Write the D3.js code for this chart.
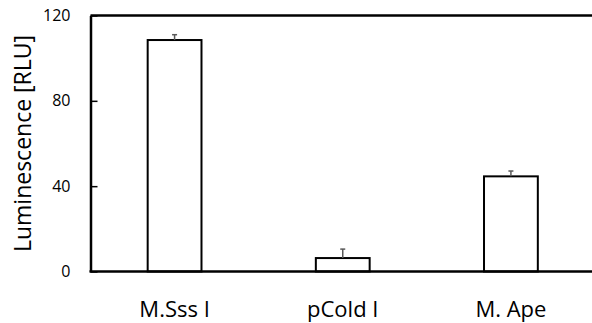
<!DOCTYPE html>
<html>
<head>
<meta charset="utf-8">
<script src="https://cdn.jsdelivr.net/npm/d3@7"></script>
<style>
  body { margin: 0; background: #fff; }
  svg text { font-family: "Open Sans", sans-serif; fill: #000; }
</style>
</head>
<body>
<div id="chart"></div>
<script>
// data
var categories = ["M.Sss I", "pCold I", "M. Ape"];
var values = [108.5, 6.3, 44.6];
var errors = [2.5, 4.2, 2.5];
var yTicks = [0, 40, 80, 120];

var width = 592, height = 323;
var plotLeft = 90.5, plotTop = 15.5, plotBottom = 271.5, plotRight = 595;

var svg = d3.select("#chart")
  .append("svg")
  .attr("width", width)
  .attr("height", height);

var xScale = d3.scaleBand()
  .domain(categories)
  .range([plotLeft, plotRight])
  .paddingInner(0.68)
  .paddingOuter(0.34);

var yScale = d3.scaleLinear()
  .domain([0, 120])
  .range([plotBottom, plotTop]);

// bars
svg.append("g")
  .selectAll("rect")
  .data(values)
  .enter().append("rect")
    .attr("x", function(d, i) { return xScale(categories[i]); })
    .attr("y", function(d) { return yScale(d); })
    .attr("width", xScale.bandwidth())
    .attr("height", function(d) { return yScale(0) - yScale(d); })
    .attr("fill", "#fff")
    .attr("stroke", "#000")
    .attr("stroke-width", 2);

// error bars (upper only)
var err = svg.append("g")
  .attr("stroke", "#595959")
  .attr("stroke-width", 1.5);
values.forEach(function(v, i) {
  var cx = xScale(categories[i]) + xScale.bandwidth() / 2;
  err.append("line")
    .attr("x1", cx).attr("x2", cx)
    .attr("y1", yScale(v)).attr("y2", yScale(v + errors[i]));
  err.append("line")
    .attr("x1", cx - 2.5).attr("x2", cx + 2.5)
    .attr("y1", yScale(v + errors[i])).attr("y2", yScale(v + errors[i]));
});

// top border (right edge runs off the picture)
svg.append("line")
  .attr("x1", plotLeft).attr("x2", width + 5)
  .attr("y1", plotTop).attr("y2", plotTop)
  .attr("stroke", "#000").attr("stroke-width", 2.5);

// y axis with inner ticks
var yAxis = svg.append("g")
  .attr("transform", "translate(" + plotLeft + ",0)")
  .call(d3.axisLeft(yScale).tickValues(yTicks).tickSizeInner(-7).tickSizeOuter(0).tickPadding(20));
yAxis.select(".domain").attr("stroke", "#000").attr("stroke-width", 2.5);
yAxis.selectAll(".tick line").attr("stroke", "#000").attr("stroke-width", 1.5);
yAxis.selectAll(".tick text")
  .style("font-family", "'Open Sans', sans-serif")
  .style("font-size", "16px")
  .attr("fill", "#000");

// x axis
var xAxis = svg.append("g")
  .attr("transform", "translate(0," + plotBottom + ")")
  .call(d3.axisBottom(xScale).tickSize(0).tickPadding(0));
xAxis.select(".domain").remove();
svg.append("line")
  .attr("x1", plotLeft - 1).attr("x2", width + 5)
  .attr("y1", plotBottom).attr("y2", plotBottom)
  .attr("stroke", "#000").attr("stroke-width", 2.5);
xAxis.selectAll(".tick text")
  .attr("y", 45)
  .attr("dy", 0)
  .style("font-family", "'Open Sans', sans-serif")
  .style("font-size", "22px")
  .attr("fill", "#000");

// y label
svg.append("text")
  .attr("transform", "translate(22," + ((plotTop + plotBottom) / 2) + ") rotate(-90)")
  .attr("text-anchor", "middle")
  .attr("dominant-baseline", "central")
  .style("font-size", "23px")
  .text("Luminescence [RLU]");
</script>
</body>
</html>
